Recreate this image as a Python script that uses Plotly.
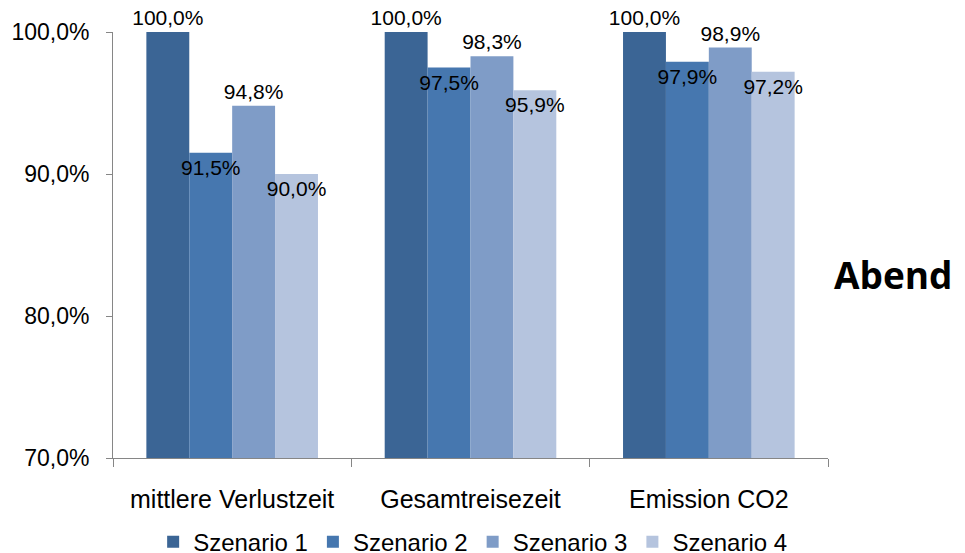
import plotly.graph_objects as go

categories = ["mittlere Verlustzeit", "Gesamtreisezeit", "Emission CO2"]
scenarios = ["Szenario 1", "Szenario 2", "Szenario 3", "Szenario 4"]
values = [
    [100.0, 100.0, 100.0],
    [91.5, 97.5, 97.9],
    [94.8, 98.3, 98.9],
    [90.0, 95.9, 97.2],
]
y_ticks = [70, 80, 90, 100]
y_tick_text = [f"{v:.1f}%".replace(".", ",") for v in y_ticks]

colours = ["#3B6595", "#4677AF", "#7F9CC7", "#B5C4DE"]
# Excel put the labels of series 2 and 4 just inside the bar top
label_pos = ["outside", "inside", "outside", "inside"]

fig = go.Figure()
for i, (name, vals, colour) in enumerate(zip(scenarios, values, colours)):
    fig.add_trace(
        go.Bar(
            x=categories,
            y=vals,
            name=name,
            offsetgroup=str(i),
            marker=dict(color=colour, line=dict(width=0)),
        )
    )

# labels in a second, see-through set of bars so they sit above every bar
for i, (name, vals, pos) in enumerate(zip(scenarios, values, label_pos)):
    fig.add_trace(
        go.Bar(
            x=categories,
            y=vals,
            name=name,
            offsetgroup=str(i),
            showlegend=False,
            hoverinfo="skip",
            marker=dict(color="rgba(0,0,0,0)", line=dict(width=0)),
            texttemplate="%{y:.1f}%",
            textposition=pos,
            textangle=0,
            insidetextanchor="end",
            textfont=dict(color="black", size=21),
            constraintext="none",
            cliponaxis=False,
        )
    )

# the page body adds an 8px margin, so the figure is 8px smaller each way
fig.update_layout(
    width=957,
    height=545,
    margin=dict(l=105, r=137, t=24, b=95),
    plot_bgcolor="white",
    paper_bgcolor="white",
    font=dict(family="Liberation Sans, Arial", size=23, color="black"),
    separators=",.",
    barmode="group",
    bargap=0.28,
    bargroupgap=0,
    showlegend=True,
    legend=dict(
        orientation="h",
        x=0.503,
        xanchor="center",
        yref="container",
        y=0.02,
        yanchor="middle",
        font=dict(size=24),
        itemwidth=30,
        traceorder="normal",
    ),
)
fig.update_yaxes(
    range=[70, 100],
    tickvals=y_ticks,
    ticktext=y_tick_text,
    tickfont=dict(size=23),
    showgrid=False,
    zeroline=False,
    showline=True,
    linecolor="#868686",
    linewidth=1,
    ticks="outside",
    ticklen=6,
    tickcolor="#868686",
    ticklabelstandoff=12,
    automargin=False,
)
fig.update_xaxes(
    showgrid=False,
    showline=True,
    linecolor="#868686",
    linewidth=1,
    ticks="outside",
    tickson="boundaries",
    ticklen=8,
    tickcolor="#868686",
    tickfont=dict(size=25),
    ticklabelstandoff=19,
    automargin=False,
)
fig.add_annotation(
    text="<b>Abend</b>",
    xref="paper",
    yref="paper",
    x=1.0,
    xanchor="left",
    xshift=4,
    y=0.43,
    yanchor="middle",
    showarrow=False,
    font=dict(family="Open Sans", size=37, color="black"),
)

fig.write_html("out.html")
